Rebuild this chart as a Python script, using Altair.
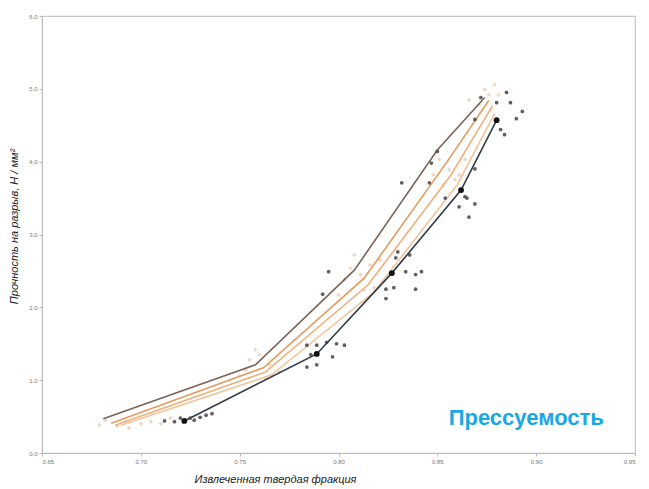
import altair as alt
import pandas as pd

# ---- data ----
line_ids = ["A", "B", "C", "D", "M"]
line_x = {
    "A": [0.681, 0.758, 0.808, 0.850, 0.874],
    "B": [0.685, 0.762, 0.813, 0.855, 0.876],
    "C": [0.687, 0.763, 0.815, 0.857, 0.878],
    "D": [0.690, 0.766, 0.818, 0.860, 0.879],
    "M": [0.722, 0.789, 0.827, 0.862, 0.880],
}
line_y = {
    "A": [0.47, 1.21, 2.51, 4.16, 4.88],
    "B": [0.41, 1.17, 2.40, 4.00, 4.84],
    "C": [0.38, 1.11, 2.31, 3.82, 4.77],
    "D": [0.38, 1.07, 2.21, 3.68, 4.66],
    "M": [0.44, 1.36, 2.47, 3.61, 4.57],
}
line_colors = ["#7a6458", "#e59a5c", "#f0b07c", "#f3c49a", "#2e3a48"]

dark_x = [0.784, 0.789, 0.794, 0.799, 0.803, 0.786, 0.797, 0.784, 0.789,
          0.795, 0.792, 0.830, 0.829, 0.836, 0.834, 0.839, 0.842, 0.839,
          0.824, 0.828, 0.824, 0.850, 0.847, 0.832, 0.846, 0.869, 0.864,
          0.865, 0.869, 0.861, 0.866, 0.854, 0.885, 0.887, 0.893, 0.890,
          0.880, 0.882, 0.884, 0.872, 0.869, 0.725, 0.727, 0.730, 0.733,
          0.720, 0.717, 0.712, 0.736]
dark_y = [1.48, 1.48, 1.52, 1.50, 1.48, 1.35, 1.32, 1.18, 1.21,
          2.49, 2.18, 2.76, 2.68, 2.72, 2.49, 2.45, 2.49, 2.25,
          2.25, 2.27, 2.12, 4.14, 3.98, 3.71, 3.71, 3.90, 3.52,
          3.50, 3.42, 3.38, 3.24, 3.50, 4.95, 4.81, 4.69, 4.59,
          4.81, 4.44, 4.37, 4.88, 4.58, 0.48, 0.45, 0.49, 0.52,
          0.48, 0.43, 0.44, 0.54]

light_x = [0.682, 0.679, 0.688, 0.692, 0.700, 0.705, 0.710, 0.694, 0.715,
           0.755, 0.760, 0.753, 0.765, 0.763, 0.770, 0.758, 0.750,
           0.806, 0.803, 0.811, 0.816, 0.808, 0.818, 0.800, 0.813, 0.821,
           0.851, 0.856, 0.859, 0.853, 0.861, 0.848, 0.864,
           0.874, 0.876, 0.879, 0.871, 0.877, 0.866, 0.881]
light_y = [0.45, 0.38, 0.37, 0.43, 0.40, 0.43, 0.40, 0.34, 0.48,
           1.28, 1.35, 1.14, 1.21, 1.03, 1.11, 1.42, 1.06,
           2.54, 2.38, 2.45, 2.58, 2.72, 2.27, 2.17, 2.24, 2.65,
           4.03, 3.89, 3.75, 3.68, 3.82, 3.82, 4.03,
           4.99, 4.92, 5.06, 4.78, 4.71, 4.85, 4.92]

x_ticks = [0.65, 0.70, 0.75, 0.80, 0.85, 0.90, 0.95]
y_ticks = [0.0, 1.0, 2.0, 3.0, 4.0, 5.0, 6.0]

label_text = ["Прессуемость"]
label_x = [0.895]
label_y = [0.48]

# ---- tables ----
rows = []
for lid in line_ids:
    for i, (xv, yv) in enumerate(zip(line_x[lid], line_y[lid])):
        rows.append({"line": lid, "x": xv, "y": yv, "order": i})
lines_df = pd.DataFrame(rows)
dark_df = pd.DataFrame({"x": dark_x, "y": dark_y})
light_df = pd.DataFrame({"x": light_x, "y": light_y})
lab_df = pd.DataFrame({"t": label_text, "x": label_x, "y": label_y})

xs = alt.Scale(domain=[0.65, 0.95], nice=False, zero=False)
ys = alt.Scale(domain=[0.0, 6.0], nice=False, zero=False)

x_axis = alt.Axis(values=x_ticks, format=".2f", title="Извлеченная твердая фракция",
                  titleFontStyle="italic", titleFontWeight="normal", titleFontSize=11,
                  titleColor="#222", titleFont="Liberation Sans",
                  titleX=233, titleY=20, labelFontSize=6, labelColor="#777",
                  labelFont="Liberation Sans", tickSize=3, tickColor="#bbb",
                  domainColor="#bbb", grid=False)
y_axis = alt.Axis(values=y_ticks, format=".1f", title="Прочность на разрыв, Н / мм²",
                  titleFontStyle="italic", titleFontWeight="normal", titleFontSize=11,
                  titleColor="#222", titleFont="Liberation Sans",
                  titleX=-23, titleY=210, labelFontSize=6, labelColor="#777",
                  labelFont="Liberation Sans", tickSize=3, tickColor="#bbb",
                  domainColor="#bbb", grid=False)

light_pts = alt.Chart(light_df).mark_point(shape="cross", size=14, filled=True,
                                           color="#e8b48c", opacity=0.6).encode(
    x=alt.X("x:Q", scale=xs, axis=x_axis), y=alt.Y("y:Q", scale=ys, axis=y_axis))

lines = alt.Chart(lines_df).mark_line(strokeWidth=1.6, interpolate="linear").encode(
    x=alt.X("x:Q", scale=xs), y=alt.Y("y:Q", scale=ys),
    color=alt.Color("line:N", scale=alt.Scale(domain=line_ids, range=line_colors), legend=None),
    order="order:Q")

dark_pts = alt.Chart(dark_df).mark_circle(size=14, color="#444", opacity=0.85).encode(
    x=alt.X("x:Q", scale=xs), y=alt.Y("y:Q", scale=ys))

anchors = alt.Chart(lines_df).transform_filter(alt.datum.line == "M").mark_circle(
    size=34, color="#111", opacity=1).encode(
    x=alt.X("x:Q", scale=xs), y=alt.Y("y:Q", scale=ys))

label = alt.Chart(lab_df).mark_text(fontSize=22, fontWeight="bold", color="#1aa7e6",
                                    font="Liberation Sans").encode(
    x=alt.X("x:Q", scale=xs), y=alt.Y("y:Q", scale=ys), text="t:N")

chart = alt.layer(light_pts, lines, dark_pts, anchors, label).properties(
    width=593, height=437,
    autosize=alt.AutoSizeParams(type="none"),
    padding={"left": 42, "top": 16, "right": 14, "bottom": 36},
    background="white",
).configure_view(stroke="#c8c8c8", strokeWidth=1.2)

chart.save("out.html", embed_options={"renderer": "svg", "actions": False})
